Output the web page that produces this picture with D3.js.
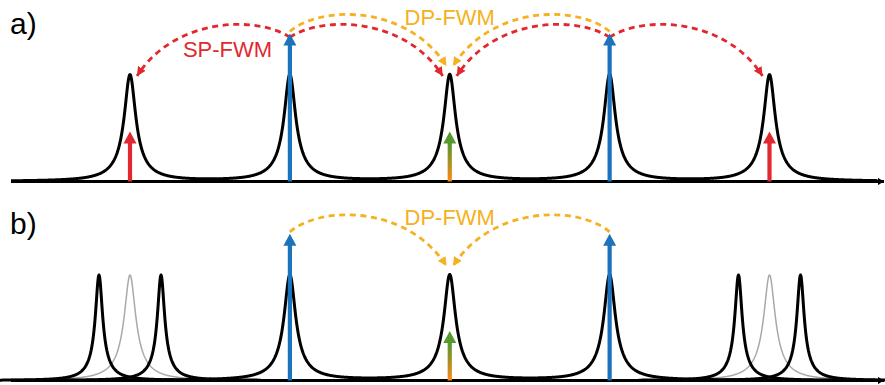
<!DOCTYPE html>
<html><head><meta charset="utf-8">
<script src="https://cdn.jsdelivr.net/npm/d3@7"></script>
<style>html,body{margin:0;padding:0;background:#fff;}svg{display:block;}</style>
</head><body>
<script>
// ---- data (mode numbers relative to the central resonance, amplitudes relative to resonance height) ----
const resonanceModesA = [-2, -1, 0, 1, 2];
const resonanceModesB = [-1, 0, 1];
const splitModesB = [-2.194, -1.806, 1.806, 2.194];
const unshiftedModesB = [-2, 2];
const linewidth = 0.041;        // core half-width (mode units)
const skirtWidth = 0.10;        // broad skirt half-width (mode units)
const skirtWeight = 0.15;
const splitLinewidth = 0.026;
const splitSkirtWidth = 0.07;
const pumpModes = [-1, 1];
const pumpAmp = 1.39;
const sidebandModesA = [-2, 2];
const sidebandAmp = 0.47;
const dpModes = [0];
const dpAmp = 0.47;
const spArcs = [[-1, -2], [-1, 0], [1, 0], [1, 2]];
const dpArcs = [[-1, 0], [1, 0]];
const panelLabels = ["a)", "b)"];
const processLabels = ["SP-FWM", "DP-FWM"];

const W = 885, H = 385;
const C = {red: "#e1282e", blue: "#1b73bb", orange: "#f4b120", gray: "#a9a9a9",
           gradLo: "#ff8716", gradHi: "#55992f"};
const FONT = "'Liberation Sans', Arial, sans-serif";

const svg = d3.select("body").append("svg").attr("width", W).attr("height", H);
const defs = svg.append("defs");

const x = d3.scaleLinear().domain([-2, 2]).range([130, 769.5]);
const yA = d3.scaleLinear().domain([0, 1]).range([181.5, 75]);
const yB = d3.scaleLinear().domain([0, 1]).range([380.5, 275]);

function marker(id, color, len, half) {
  defs.append("marker").attr("id", id).attr("markerUnits", "userSpaceOnUse")
    .attr("viewBox", `0 ${-half} ${len} ${2*half}`).attr("refX", len).attr("refY", 0)
    .attr("markerWidth", len).attr("markerHeight", 2*half).attr("orient", "auto")
    .append("path").attr("d", `M0,${-half}L${len},0L0,${half}Z`).attr("fill", color);
}
marker("mRed", C.red, 9, 4.6);
marker("mOrange", C.orange, 9, 4.6);
marker("mAxis", "#000", 6, 3.6);

const lor = (m, m0, g) => 1 / (1 + ((m - m0) / g) ** 2);
const peak = (m, m0, g, gs) => (1 - skirtWeight) * lor(m, m0, g) + skirtWeight * lor(m, m0, gs);

function curve(g, yS, modes, gam, gs, x0, x1, color, width) {
  const pts = d3.range(x0, x1, 0.5);
  g.append("path")
    .attr("d", d3.line().x(d => d).y(d => yS(d3.sum(modes, m0 => peak(x.invert(d), m0, gam, gs))))(pts))
    .attr("fill", "none").attr("stroke", color).attr("stroke-width", width)
    .attr("stroke-linejoin", "round");
}

function arrow(g, mode, yS, amp, fill) {
  const cx = x(mode), yb = yS(0), yt = yS(amp);
  const hl = 12, hw = 6.5, sw = 2.1;
  g.append("path")
    .attr("d", `M${cx-sw},${yb}L${cx-sw},${yt+hl}L${cx-hw},${yt+hl}L${cx},${yt}L${cx+hw},${yt+hl}L${cx+sw},${yt+hl}L${cx+sw},${yb}Z`)
    .attr("fill", fill);
}

function arc(g, yS, from, to, color, mk, startOff, endDx, endDy, ctrlY) {
  const dir = Math.sign(to - from);
  const S = [x(from), yS(pumpAmp) + startOff];
  const E = [x(to) - dir * endDx, yS(1) + endDy];
  const dx = E[0] - S[0];
  const c1 = [S[0] + 0.2 * dx, yS(pumpAmp) + ctrlY];
  const c2 = [S[0] + 0.75 * dx, yS(pumpAmp) + ctrlY];
  g.append("path")
    .attr("d", `M${S}C${c1} ${c2} ${E}`)
    .attr("fill", "none").attr("stroke", color).attr("stroke-width", 2.8)
    .attr("stroke-dasharray", "6 4.6").attr("marker-end", `url(#${mk})`);
}

function axis(g, yS) {
  g.append("line").attr("x1", 11).attr("x2", 884).attr("y1", yS(0)).attr("y2", yS(0))
    .attr("stroke", "#000").attr("stroke-width", 3).attr("marker-end", "url(#mAxis)");
}

function grad(id, yS) {
  const lg = defs.append("linearGradient").attr("id", id).attr("gradientUnits", "userSpaceOnUse")
    .attr("x1", 0).attr("x2", 0).attr("y1", yS(0)).attr("y2", yS(dpAmp));
  lg.append("stop").attr("offset", 0).attr("stop-color", C.gradLo);
  lg.append("stop").attr("offset", 0.75).attr("stop-color", C.gradHi);
  lg.append("stop").attr("offset", 1).attr("stop-color", C.gradHi);
}
grad("gA", yA); grad("gB", yB);

// ---------- panel a ----------
const gA = svg.append("g");
axis(gA, yA);
curve(gA, yA, resonanceModesA, linewidth, skirtWidth, 11, 878, "#000", 3);
spArcs.forEach(([f, t]) => arc(gA, yA, f, t, C.red, "mRed", 4, 7, 1, -17.5));
dpArcs.forEach(([f, t]) => arc(gA, yA, f, t, C.orange, "mOrange", -2, 3.3, -9, -28.7));
pumpModes.forEach(m => arrow(gA, m, yA, pumpAmp, C.blue));
sidebandModesA.forEach(m => arrow(gA, m, yA, sidebandAmp, C.red));
dpModes.forEach(m => arrow(gA, m, yA, dpAmp, "url(#gA)"));
gA.append("text").attr("x", 10).attr("y", 34).attr("font-family", FONT).attr("font-size", 30)
  .text(panelLabels[0]);
gA.append("text").attr("x", 227.5).attr("y", 57).attr("text-anchor", "middle").attr("font-family", FONT)
  .attr("font-size", 22).attr("fill", C.red).text(processLabels[0]);
gA.append("text").attr("x", x(0)).attr("y", 25).attr("text-anchor", "middle").attr("font-family", FONT)
  .attr("font-size", 22).attr("fill", C.orange).text(processLabels[1]);

// ---------- panel b ----------
const gB = svg.append("g");
axis(gB, yB);
unshiftedModesB.forEach(m => curve(gB, yB, [m], linewidth, skirtWidth, x(m) - 100, x(m) + 100, C.gray, 1.5));
curve(gB, yB, resonanceModesB, linewidth, skirtWidth, 11, 878, "#000", 3);
splitModesB.forEach(m => curve(gB, yB, [m], splitLinewidth, splitSkirtWidth, x(m) - 100, x(m) + 100, "#000", 3));
dpArcs.forEach(([f, t]) => arc(gB, yB, f, t, C.orange, "mOrange", -2, 3.3, -9, -28.7));
pumpModes.forEach(m => arrow(gB, m, yB, pumpAmp, C.blue));
dpModes.forEach(m => arrow(gB, m, yB, dpAmp, "url(#gB)"));
gB.append("text").attr("x", 10).attr("y", 234).attr("font-family", FONT).attr("font-size", 30)
  .text(panelLabels[1]);
gB.append("text").attr("x", x(0)).attr("y", 225).attr("text-anchor", "middle").attr("font-family", FONT)
  .attr("font-size", 22).attr("fill", C.orange).text(processLabels[1]);
</script>
</body></html>
